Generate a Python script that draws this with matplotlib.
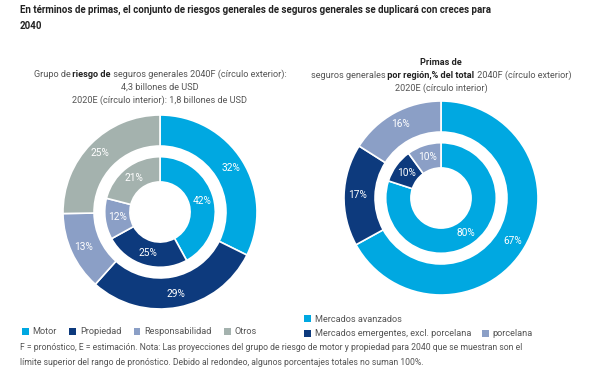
import numpy as np
import matplotlib
matplotlib.use("Agg")
import matplotlib.pyplot as plt
from matplotlib.patches import Patch

plt.rcParams['font.family'] = ['Roboto', 'DejaVu Sans']

# data
risk_groups = ['Motor', 'Propiedad', 'Responsabilidad', 'Otros']
risk_2040 = [32, 29, 13, 25]
risk_2020 = [42, 25, 12, 21]

regions = ['Mercados avanzados', 'Mercados emergentes, excl. porcelana', 'porcelana']
region_2040 = [67, 17, 16]
region_2020 = [80, 10, 10]

risk_colors = ['#00a8e1', '#0d3a7d', '#8b9fc6', '#a4b2ae']
region_colors = ['#00a8e1', '#0d3a7d', '#8b9fc6']

W, H = 600, 389
fig = plt.figure(figsize=(6, 3.89), dpi=100)
overlay = fig.add_axes([0, 0, 1, 1])
overlay.set_xlim(0, W)
overlay.set_ylim(H, 0)
overlay.axis('off')


def px(x, y):
    return x / W, 1 - y / H


def donut(cx, cy, R, outer_vals, inner_vals, colors):
    ax = fig.add_axes([(cx - R) / W, 1 - (cy + R) / H, 2 * R / W, 2 * R / H])
    ax.axis('off')
    r_in = 0.57
    for vals, rad, wid, dist in [(outer_vals, 1.0, 0.32, 0.865),
                                 (inner_vals, r_in, 0.26, 0.445)]:
        wedges, _ = ax.pie(vals, radius=rad, colors=colors, startangle=90,
                           counterclock=False,
                           wedgeprops=dict(width=wid, edgecolor='white', linewidth=1.2))
        for w, v in zip(wedges, vals):
            a = np.deg2rad((w.theta1 + w.theta2) / 2)
            ax.text(dist * np.cos(a), dist * np.sin(a), f"{v}%", color='white',
                    ha='center', va='center', fontsize=7.3)
    ax.set_xlim(-1, 1)
    ax.set_ylim(-1, 1)
    return ax


lines = []


def rich_line(x_center, y, parts, size=6.6, color='#555555'):
    # each piece is anchored to the right edge of the one before it
    texts = []
    prev = None
    for s, b in parts:
        kw = dict(fontsize=size, fontweight='bold' if b else 'normal',
                  color='#222222' if b else color)
        if prev is None:
            t = overlay.text(x_center, y, s, ha='left', va='center', **kw)
        else:
            t = overlay.annotate(s, xy=(1, 0.5), xycoords=prev, ha='left',
                                 va='center', **kw)
        texts.append(t)
        prev = t
    lines.append((x_center, y, texts))


def center_lines():
    fig.canvas.draw()
    r = fig.canvas.get_renderer()
    for x_center, y, texts in lines:
        x0 = texts[0].get_window_extent(r).x0
        x1 = texts[-1].get_window_extent(r).x1
        shift = (x0 + x1) / 2 - x_center * fig.dpi / 100
        texts[0].set_x(x_center - shift)


# title
fig.text(20 / W, 1 - 18 / H, "En términos de primas, el conjunto de riesgos generales de seguros generales se duplicará con creces para\n2040",
         fontsize=7.05, fontweight='bold', color='#222222', ha='left', va='center', linespacing=1.7)

# subtitles
rich_line(160, 74, [("Grupo de", False), (" riesgo de", True),
                    (" seguros generales 2040F (círculo exterior):", False)])
rich_line(160, 87, [("4,3 billones de USD", False)])
rich_line(160, 100, [("2020E (círculo interior): 1,8 billones de USD", False)])

rich_line(441, 62, [("Primas de", True)])
rich_line(441, 75, [("seguros generales", False), (" por región,% del total", True),
                    (" 2040F (círculo exterior)", False)])
rich_line(441, 88, [("2020E (círculo interior)", False)])

donut(160, 212, 97, risk_2040, risk_2020, risk_colors)
donut(441, 198, 97, region_2040, region_2020, region_colors)

# legends
lg = dict(frameon=False, fontsize=6.6, handlelength=0.75, handleheight=0.75,
          handletextpad=0.4, labelcolor='#555555', borderaxespad=0, borderpad=0)
h1 = [Patch(facecolor=c, edgecolor='none') for c in risk_colors]
fig.legend(h1, risk_groups, loc='center left', bbox_to_anchor=px(22, 332), ncol=4,
           columnspacing=1.35, **lg)

fig.legend(h1[:1], regions[:1], loc='center left', bbox_to_anchor=px(304, 319), **lg)
h2 = [Patch(facecolor=c, edgecolor='none') for c in region_colors[1:]]
fig.legend(h2, regions[1:], loc='center left', bbox_to_anchor=px(304, 334), ncol=2,
           columnspacing=1.2, **lg)

# footnote
fig.text(20 / W, 1 - 355 / H,
         "F = pronóstico, E = estimación. Nota: Las proyecciones del grupo de riesgo de motor y propiedad para 2040 que se muestran son el\n"
         "límite superior del rango de pronóstico. Debido al redondeo, algunos porcentajes totales no suman 100%.",
         fontsize=6.2, color='#555555', ha='left', va='center', linespacing=1.8)

center_lines()
fig.savefig("out.png", dpi=100, facecolor='white')
